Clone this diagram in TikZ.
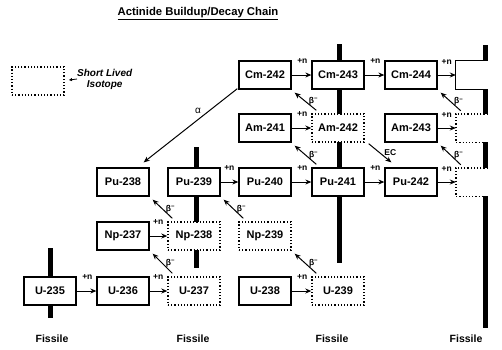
\documentclass[tikz,border=0pt]{standalone}
\usepackage{fontspec}
\setmainfont{Liberation Sans}
\usetikzlibrary{arrows.meta,calc}
\begin{document}
\begin{tikzpicture}[x=1pt,y=-1pt,
  iso/.style={draw,line width=1.3pt,fill=white,minimum width=52pt,minimum height=28pt,inner sep=0pt,font=\bfseries\fontsize{11}{12}\selectfont},
  shortiso/.style={iso,dash pattern=on 1.2pt off 2pt,line width=1.4pt},
  ghost/.style={minimum width=52pt,minimum height=28pt,inner sep=0pt},
  fisbar/.style={line width=5pt},
  narr/.style={line width=1pt,-{Stealth[length=6pt,width=5pt]}},
  nlab/.style={font=\bfseries\fontsize{8.5}{9}\selectfont,inner sep=0pt},
  blab/.style={font=\bfseries\fontsize{8.5}{9}\selectfont,inner sep=0pt},
  fis/.style={font=\bfseries\fontsize{10.5}{12}\selectfont,inner sep=0pt}
]
\useasboundingbox (0,0) rectangle (502,349);

% title
\node (title) at (198,14) {\bfseries\fontsize{11.3}{14}\selectfont\underline{Actinide Buildup/Decay Chain}};

% legend
\node[shortiso] (legbox) at (38,81) {};
\node[anchor=west,align=center,inner sep=0pt,font=\bfseries\itshape\fontsize{10}{11}\selectfont] (legtxt) at (77,79) {Short Lived\\Isotope};
\coordinate (legtip) at (69,80);
\draw[line width=0.8pt,-{Triangle[length=3pt,width=3pt]}] (legtxt.west) -- (legtip);

% fission bars (behind boxes)
\draw[fisbar] (50,248) -- (50,318);
\draw[fisbar] (196,147) -- (196,268);
\draw[fisbar] (339,44) -- (339,263);
\draw[fisbar] (485,45) -- (485,328);

% isotopes
\node[iso] (cm242) at (265,75) {Cm-242};
\node[iso] (cm243) at (338,75) {Cm-243};
\node[iso] (cm244) at (411,75) {Cm-244};
\node[iso] (am241) at (265,128) {Am-241};
\node[shortiso] (am242) at (338,128) {Am-242};
\node[iso] (am243) at (411,128) {Am-243};
\node[iso] (pu238) at (123,182) {Pu-238};
\node[iso] (pu239) at (194,182) {Pu-239};
\node[iso] (pu240) at (265,182) {Pu-240};
\node[iso] (pu241) at (338,182) {Pu-241};
\node[iso] (pu242) at (411,182) {Pu-242};
\node[iso] (np237) at (123,236) {Np-237};
\node[shortiso] (np238) at (194,236) {Np-238};
\node[shortiso] (np239) at (265,236) {Np-239};
\node[iso] (u235) at (50,291) {U-235};
\node[iso] (u236) at (123,291) {U-236};
\node[shortiso] (u237) at (194,291) {U-237};
\node[iso] (u238) at (265,291) {U-238};
\node[shortiso] (u239) at (338,291) {U-239};

% partial boxes at the right edge
\node[ghost] (cm245) at (482,75) {};
\node[ghost] (am244) at (482,128) {};
\node[ghost] (pu243) at (482,182) {};
\fill[white] (cm245.north west) rectangle ([xshift=32pt]cm245.south west);
\fill[white] (am244.north west) rectangle ([xshift=32pt]am244.south west);
\fill[white] (pu243.north west) rectangle ([xshift=32pt]pu243.south west);
\draw[line width=1.3pt] ([xshift=32pt]cm245.north west) -- (cm245.north west) -- (cm245.south west) -- ([xshift=32pt]cm245.south west);
\draw[line width=1.4pt,dash pattern=on 1.2pt off 2pt] ([xshift=32pt]am244.north west) -- (am244.north west) -- (am244.south west) -- ([xshift=32pt]am244.south west);
\draw[line width=1.4pt,dash pattern=on 1.2pt off 2pt] ([xshift=32pt]pu243.north west) -- (pu243.north west) -- (pu243.south west) -- ([xshift=32pt]pu243.south west);

% neutron captures
\foreach \a/\b [count=\i] in {cm242/cm243,cm243/cm244,cm244/cm245,am241/am242,am243/am244,pu239/pu240,pu240/pu241,pu241/pu242,pu242/pu243,np237/np238,u235/u236,u236/u237,u238/u239}{
  \draw[narr] (\a.east) -- (\b.west);
  \node[nlab] (nc\i) at ([shift={(-9,1)}]\b.north west) {+n};
}

% beta decays
\foreach \p/\c [count=\i] in {u237/np237,np238/pu238,np239/pu239,u239/np239,pu241/am241,am242/cm242,pu243/am243,am244/cm244}{
  \draw[narr] ([shift={(5,-3)}]\p.north west) -- ([shift={(3,3)}]\c.south east)
    node[blab,pos=0.5,right=3pt] (bd\i) {β\textsuperscript{−}};
}

% electron capture
\draw[narr] ([shift={(4,1)}]am242.south east) -- ([shift={(7,-5)}]pu242.north west)
  node[blab,pos=0.45,right=5pt] (ec) {EC};

% alpha decay
\draw[narr] ([shift={(-1,-1)}]cm242.south west) -- ([shift={(-6,-5)}]pu238.north east)
  node[blab,pos=0.42,above=6pt,font=\fontsize{10}{11}\selectfont] (alpha) {α};

% fissile labels
\node[fis] (f1) at (52,339) {Fissile};
\node[fis] (f2) at (193,339) {Fissile};
\node[fis] (f3) at (332,339) {Fissile};
\node[fis] (f4) at (466,339) {Fissile};
\end{tikzpicture}
\end{document}
